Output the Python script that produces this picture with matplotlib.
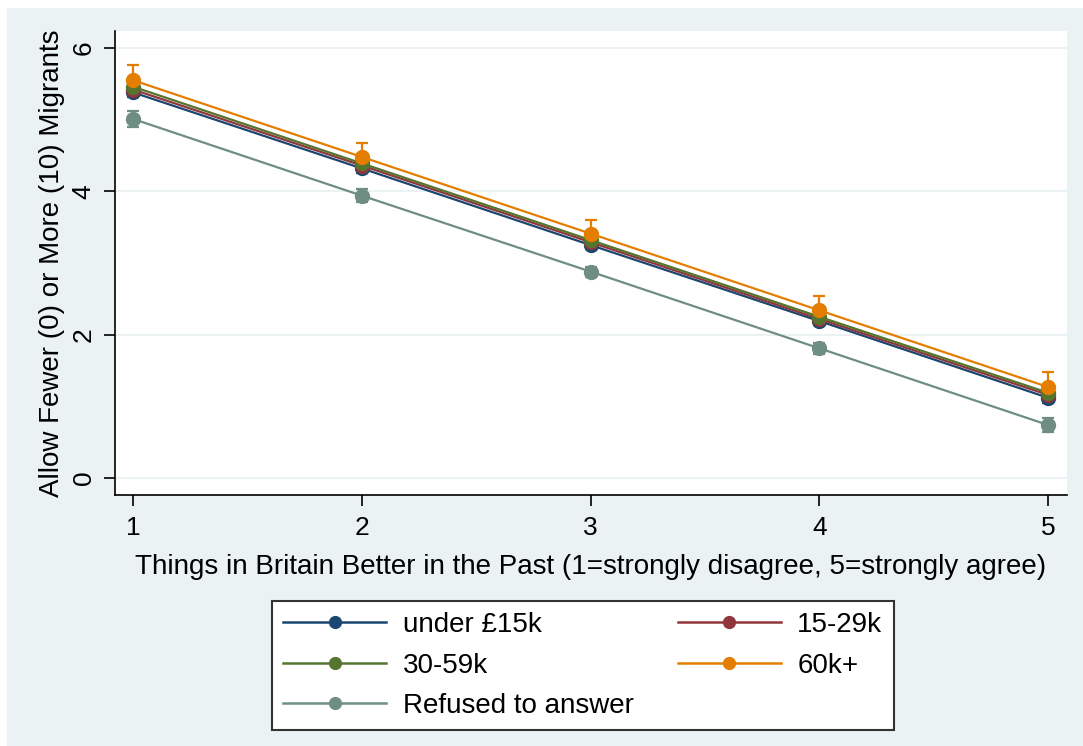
import matplotlib
matplotlib.use("Agg")
import matplotlib.pyplot as plt
from matplotlib.lines import Line2D
from matplotlib.patches import Rectangle
import numpy as np

plt.rcParams["font.family"] = ["Liberation Sans", "DejaVu Sans"]

x_vals = [1, 2, 3, 4, 5]
series_names = ["under £15k", "15-29k", "30-59k", "60k+", "Refused to answer"]
under15 = [5.38, 4.32, 3.25, 2.19, 1.12]
k15_29 = [5.42, 4.36, 3.29, 2.22, 1.16]
k30_59 = [5.46, 4.39, 3.32, 2.25, 1.19]
k60 = [5.55, 4.48, 3.41, 2.34, 1.27]
refused = [5.01, 3.94, 2.88, 1.81, 0.74]
ci_under15 = [0.07, 0.06, 0.05, 0.06, 0.07]
ci_15_29 = [0.08, 0.07, 0.06, 0.07, 0.08]
ci_30_59 = [0.07, 0.06, 0.05, 0.06, 0.07]
ci_60 = [0.21, 0.19, 0.19, 0.20, 0.21]
ci_refused = [0.11, 0.09, 0.07, 0.08, 0.10]
colors = ["#1a476f", "#90353b", "#55752f", "#e37e00", "#6e8e84"]
yticks = [0, 2, 4, 6]
xlabel = "Things in Britain Better in the Past (1=strongly disagree, 5=strongly agree)"
ylabel = "Allow Fewer (0) or More (10) Migrants"

bg = "#eaf2f3"
W, H = 1083, 746
fig = plt.figure(figsize=(W / 100, H / 100), dpi=100)
fig.patch.set_facecolor("white")
fig.patches.append(Rectangle((7 / W, 0), 1 - 7 / W, 1 - 8 / H, transform=fig.transFigure,
                             facecolor=bg, edgecolor="none", zorder=-10))

ax = fig.add_axes([115 / W, 1 - 495 / H, (1067 - 115) / W, (495 - 31) / H])
ax.set_facecolor("white")
ax.set_xlim(0.921, 5.083)
ax.set_ylim(-0.237, 6.237)

ax.grid(axis="y", color=bg, linewidth=1.5, zorder=0)
ax.set_axisbelow(True)

data = [under15, k15_29, k30_59, k60, refused]
cis = [ci_under15, ci_15_29, ci_30_59, ci_60, ci_refused]
for name, ys, ci, c in zip(series_names, data, cis, colors):
    ax.errorbar(x_vals, ys, yerr=ci, color=c, ecolor=c, elinewidth=1.6, capsize=4.5,
                capthick=1.6, marker="o", markersize=10, linewidth=1.6, label=name, zorder=3)

for s in ["top", "right"]:
    ax.spines[s].set_visible(False)
for s in ["left", "bottom"]:
    ax.spines[s].set_color("black")
    ax.spines[s].set_linewidth(1.2)

ax.set_yticks(yticks)
ax.set_yticklabels([str(v) for v in yticks], rotation=90, va="center")
ax.set_xticks(x_vals)
ax.tick_params(axis="both", labelsize=19, length=8, width=1.2, colors="black")
ax.tick_params(axis="x", pad=7)
ax.tick_params(axis="y", pad=6)
ax.set_xlabel(xlabel, fontsize=20, labelpad=10)
ax.set_ylabel(ylabel, fontsize=20, labelpad=5)

handles = [Line2D([0], [0], color=c, linewidth=1.8, marker="o", markersize=8.5) for c in colors]
order = [0, 2, 4, 1, 3]
leg = fig.legend([handles[i] for i in order], [series_names[i] for i in order],
                 loc="upper left", ncol=2, borderaxespad=0,
                 bbox_to_anchor=(272 / W, 1 - 601 / H), fontsize=20, frameon=True,
                 fancybox=False, edgecolor="#333333", facecolor="white", framealpha=1,
                 handlelength=3.7, handletextpad=0.6,
                 columnspacing=1.6, borderpad=0.4, labelspacing=0.52)
leg.get_frame().set_linewidth(1.5)

fig.savefig("out.png", dpi=100, facecolor=fig.get_facecolor())
